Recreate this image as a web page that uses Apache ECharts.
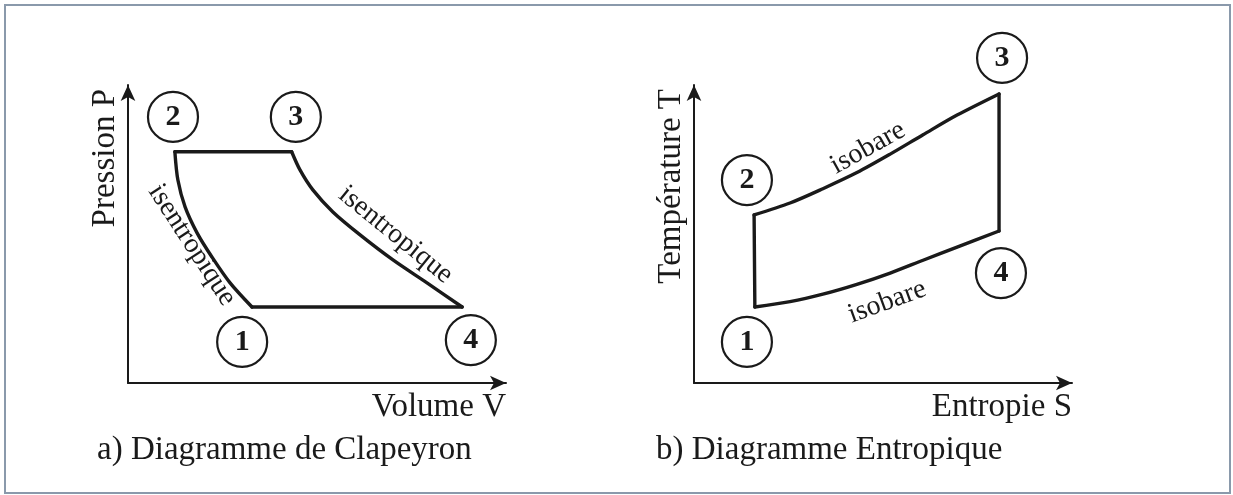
<!DOCTYPE html>
<html>
<head>
<meta charset="utf-8">
<script src="https://cdn.jsdelivr.net/npm/echarts@6/dist/echarts.min.js"></script>
<style>
  html, body { margin: 0; padding: 0; background: #fff; }
  #chart { width: 1233px; height: 495px; }
</style>
</head>
<body>
<div id="chart"></div>
<script>
// axis titles and captions
const pvAxisNames = ['Volume V', 'Pression P'];
const tsAxisNames = ['Entropie S', 'Température T'];
const captions = ['a) Diagramme de Clapeyron', 'b) Diagramme Entropique'];

// Clapeyron (V, P), arbitrary units
const pvCompression = [[1.24, 7.76], [1.32, 6.81], [1.51, 5.91], [1.83, 5.03], [2.22, 4.23], [2.70, 3.36], [3.28, 2.55]];
const pvHeating = [[1.24, 7.76], [4.33, 7.76]];
const pvExpansion = [[4.33, 7.76], [4.55, 7.15], [4.89, 6.48], [5.42, 5.74], [6.14, 4.97], [7.01, 4.13], [7.91, 3.36], [8.84, 2.55]];
const pvCooling = [[8.84, 2.55], [3.28, 2.55]];
const pvStates = [['1', 3.02, 1.38], ['2', 1.19, 8.93], ['3', 4.44, 8.93], ['4', 9.07, 1.44]];
const pvNotes = [['isentropique', 1.69, 4.63], ['isentropique', 7.08, 4.97]];

// Entropique (S, T)
const tsCompression = [[1.61, 2.55], [1.59, 5.64]];
const tsHeating = [[1.59, 5.64], [2.54, 6.04], [3.41, 6.52], [4.31, 7.06], [5.19, 7.68], [6.06, 8.33], [6.96, 8.99], [8.07, 9.70]];
const tsExpansion = [[8.07, 9.70], [8.07, 5.10]];
const tsCooling = [[8.07, 5.10], [6.96, 4.56], [6.06, 4.12], [5.19, 3.69], [4.31, 3.31], [3.41, 2.98], [2.54, 2.73], [1.61, 2.55]];
const tsStates = [['1', 1.40, 1.38], ['2', 1.40, 6.81], ['3', 8.15, 10.91], ['4', 8.12, 3.69]];
const tsNotes = [['isobare', 4.60, 7.89], ['isobare', 5.11, 2.72]];

const noteAngles = [[-57, -39], [29, 20]];

const ink = '#1a1a1a';
const serif = '"Liberation Serif", "DejaVu Serif", serif';

const chart = echarts.init(document.getElementById('chart'));

function axisPair(gridIndex, names) {
  const common = {
    gridIndex: gridIndex,
    type: 'value',
    min: 0,
    max: 10,
    axisTick: { show: false },
    axisLabel: { show: false },
    splitLine: { show: false },
    axisLine: {
      onZero: false,
      symbol: ['none', 'arrow'],
      symbolSize: [11, 16],
      lineStyle: { color: ink, width: 2 }
    }
  };
  return {
    x: Object.assign({}, common, {
      name: names[0],
      nameLocation: 'end',
      nameGap: 0,
      nameTextStyle: {
        fontFamily: serif, fontSize: 33, color: ink,
        align: 'right', verticalAlign: 'top', padding: [8, 0, 0, 0]
      }
    }),
    y: Object.assign({}, common, {
      name: names[1],
      nameLocation: 'end',
      nameGap: -4,
      nameRotate: 90,
      nameTextStyle: {
        fontFamily: serif, fontSize: 33, color: ink,
        align: 'right', verticalAlign: 'bottom', padding: [0, 0, 6, 0]
      }
    })
  };
}

function path(data, idx, smooth) {
  return {
    type: 'line',
    xAxisIndex: idx,
    yAxisIndex: idx,
    data: data,
    smooth: smooth ? 0.3 : false,
    showSymbol: false,
    symbol: 'none',
    silent: true,
    lineStyle: { color: ink, width: 3.4, cap: 'round', join: 'round' },
    z: 3
  };
}

function states(list, idx) {
  return {
    type: 'scatter',
    xAxisIndex: idx,
    yAxisIndex: idx,
    clip: false,
    silent: true,
    symbol: 'circle',
    symbolSize: 50,
    data: list.map(s => ({ name: s[0], value: [s[1], s[2]] })),
    itemStyle: { color: '#fff', borderColor: ink, borderWidth: 2.2, opacity: 1 },
    label: {
      show: true,
      position: 'inside',
      formatter: p => p.name,
      fontFamily: serif,
      fontWeight: 'bold',
      fontSize: 30,
      color: ink,
      opacity: 1
    },
    z: 4
  };
}

function notes(list, idx, angles) {
  return {
    type: 'scatter',
    xAxisIndex: idx,
    yAxisIndex: idx,
    clip: false,
    silent: true,
    symbolSize: 0,
    itemStyle: { opacity: 1 },
    data: list.map((n, i) => ({
      name: n[0],
      value: [n[1], n[2]],
      label: { rotate: angles[i] }
    })),
    label: {
      show: true,
      position: 'inside',
      formatter: p => p.name,
      fontFamily: serif,
      fontSize: 28,
      color: ink,
      opacity: 1
    },
    z: 5
  };
}

const pvAxes = axisPair(0, pvAxisNames);
const tsAxes = axisPair(1, tsAxisNames);

chart.setOption({
  backgroundColor: '#ffffff',
  animation: false,
  grid: [
    { left: 128, top: 85, width: 378, height: 298, outerBoundsMode: 'none' },
    { left: 694, top: 85, width: 378, height: 298, outerBoundsMode: 'none' }
  ],
  xAxis: [pvAxes.x, tsAxes.x],
  yAxis: [pvAxes.y, tsAxes.y],
  graphic: [
    {
      type: 'rect',
      shape: { x: 5, y: 5, width: 1225, height: 488 },
      style: { fill: 'none', stroke: '#8a99ab', lineWidth: 2 },
      silent: true
    },
    {
      type: 'text',
      left: 97,
      top: 434,
      style: { text: captions[0], font: '33px ' + serif, fill: ink }
    },
    {
      type: 'text',
      left: 656,
      top: 434,
      style: { text: captions[1], font: '33px ' + serif, fill: ink }
    }
  ],
  series: [
    path(pvCompression, 0, true),
    path(pvHeating, 0, false),
    path(pvExpansion, 0, true),
    path(pvCooling, 0, false),
    states(pvStates, 0),
    notes(pvNotes, 0, noteAngles[0]),
    path(tsCompression, 1, false),
    path(tsHeating, 1, true),
    path(tsExpansion, 1, false),
    path(tsCooling, 1, true),
    states(tsStates, 1),
    notes(tsNotes, 1, noteAngles[1])
  ]
});
</script>
</body>
</html>
